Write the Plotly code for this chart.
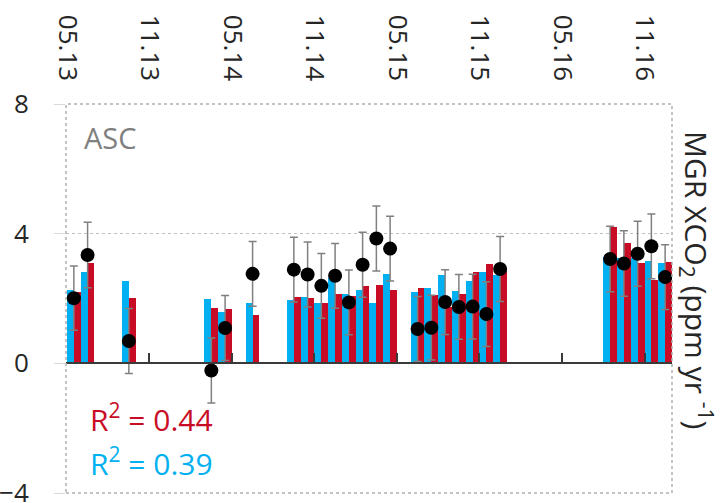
import plotly.graph_objects as go

# ---------------- data ----------------
month_keys = ["2013-05", "2013-06", "2013-09", "2014-03", "2014-04", "2014-06",
              "2014-09", "2014-10", "2014-11", "2014-12", "2015-01", "2015-02",
              "2015-03", "2015-04", "2015-06", "2015-07", "2015-08", "2015-09",
              "2015-10", "2015-11", "2015-12", "2016-08", "2016-09", "2016-10",
              "2016-11", "2016-12"]
model_blue = [2.26, 2.81, 2.53, 1.99, 1.57, 1.86, 1.96, 2.04, 1.87, 2.63, 2.14, 2.26,
              1.85, 2.75, 2.19, 2.31, 2.71, 2.22, 2.55, 2.83, 2.72, 3.27, 3.24, 3.24,
              3.15, 3.09]
model_red = [2.21, 3.11, 2.02, 1.70, 1.68, 1.48, 2.04, 2.03, 1.85, 2.15, 2.07, 2.40,
             2.41, 2.26, 2.31, 2.10, 1.74, 2.15, 2.83, 3.06, 2.85, 4.20, 3.70, 3.08,
             2.57, 3.14]
observed = [2.01, 3.34, 0.69, -0.22, 1.09, 2.76, 2.89, 2.74, 2.39, 2.70, 1.88, 3.04,
            3.85, 3.54, 1.06, 1.10, 1.89, 1.74, 1.75, 1.52, 2.91, 3.22, 3.08, 3.38,
            3.61, 2.66]
observed_err = [0.99, 1.01, 1.0, 1.0, 1.0, 1.0, 1.0, 1.0, 1.0, 1.0, 1.0, 1.0,
                1.0, 1.0, 1.0, 1.0, 1.0, 1.0, 1.0, 1.0, 1.0, 1.01, 1.01, 1.0,
                1.0, 1.0]
tick_months = ["2013-05", "2013-11", "2014-05", "2014-11", "2015-05", "2015-11",
               "2016-05", "2016-11"]
tick_labels = ["05.13", "11.13", "05.14", "11.14", "05.15", "11.15", "05.16", "11.16"]
y_ticks = [-4, 0, 4, 8]
r2_red = 0.44
r2_blue = 0.39
panel_label = "ASC"

# ---------------- helpers ----------------
def month_index(key):
    y, m = map(int, key.split("-"))
    return (y - 2013) * 12 + (m - 5)

idx = [month_index(k) for k in month_keys]
tick_idx = [month_index(k) for k in tick_months]

BLUE = "#00B0F0"
RED = "#C90C26"
FONT = "Open Sans"
XR = [-0.07, 44]

fig = go.Figure()
fig.add_trace(go.Bar(x=[i + 0.25 for i in idx], y=model_blue, width=0.5,
                     marker=dict(color=BLUE, line=dict(width=0)), showlegend=False))
fig.add_trace(go.Bar(x=[i + 0.75 for i in idx], y=model_red, width=0.5,
                     marker=dict(color=RED, line=dict(width=0)), showlegend=False))
fig.add_trace(go.Scatter(x=[i + 0.5 for i in idx], y=observed, mode="markers",
                         xaxis="x2", yaxis="y",
                         marker=dict(color="black", size=14),
                         error_y=dict(type="data", array=observed_err, color="#808080",
                                      thickness=1.5, width=4),
                         showlegend=False))

fig.update_layout(
    width=720, height=503,
    margin=dict(l=66, r=48, t=104, b=10),
    paper_bgcolor="white", plot_bgcolor="white",
    barmode="overlay", bargap=0,
    font=dict(family=FONT, color="#262626"),
    xaxis=dict(range=XR, side="top", tickmode="array", tickvals=tick_idx,
               ticktext=tick_labels, tickangle=90, ticks="", showgrid=False,
               zeroline=False, showline=False, ticklabelstandoff=18, automargin=False,
               tickfont=dict(family=FONT, size=26, color="#262626")),
    xaxis2=dict(range=XR, overlaying="x", anchor="free", position=1/3, side="bottom",
                tickmode="array", tickvals=tick_idx, ticks="inside", ticklen=9,
                tickwidth=2, tickcolor="#3a3a3a", showline=True, linewidth=2,
                linecolor="#3a3a3a", showticklabels=False, showgrid=False,
                zeroline=False, automargin=False),
    yaxis=dict(range=[-4, 8], tickmode="array", tickvals=y_ticks, ticks="outside",
               ticklen=11, tickcolor="#d9d9d9", tickwidth=1, showgrid=True,
               gridcolor="#c0c0c0", griddash="dot", gridwidth=1, zeroline=False,
               showline=False, ticklabelstandoff=20, automargin=False,
               ticklabeloverflow="allow",
               tickfont=dict(family=FONT, size=26, color="#262626")),
    shapes=[dict(type="rect", xref="paper", yref="paper", x0=0, x1=1, y0=0, y1=1,
                 line=dict(color="#b0b0b0", width=1.5, dash="dot"), layer="above")],
    annotations=[
        dict(text=panel_label, xref="paper", yref="paper", x=0.026, y=0.915,
             xanchor="left", yanchor="middle", showarrow=False,
             font=dict(family=FONT, size=29, color="#808080")),
        dict(text=f"R<sup>2</sup> = {r2_red:.2f}", xref="paper", yref="paper",
             x=0.036, y=(493 - 418) / 389, xanchor="left", yanchor="middle",
             showarrow=False, font=dict(family=FONT, size=30, color=RED)),
        dict(text=f"R<sup>2</sup> = {r2_blue:.2f}", xref="paper", yref="paper",
             x=0.036, y=(493 - 462) / 389, xanchor="left", yanchor="middle",
             showarrow=False, font=dict(family=FONT, size=30, color=BLUE)),
        dict(text="MGR XCO<sub>2</sub> (ppm yr <sup>-1</sup>)", xref="paper",
             yref="paper", x=1 + (697 - 672) / 606, y=(493 - 280) / 389,
             xanchor="center", yanchor="middle", textangle=90, showarrow=False,
             font=dict(family=FONT, size=30, color="#262626")),
    ],
)

fig.write_html("out.html", config={"displayModeBar": False},
               post_script="document.body.style.margin='0';document.body.style.padding='0';")
